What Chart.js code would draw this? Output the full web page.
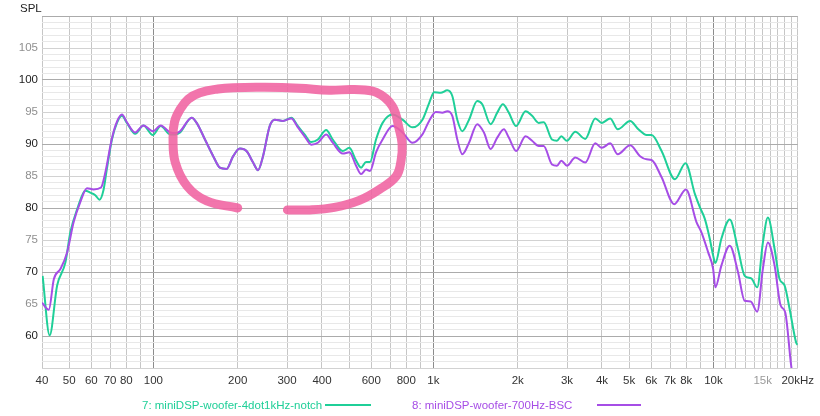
<!DOCTYPE html>
<html><head><meta charset="utf-8">
<script src="https://cdn.jsdelivr.net/npm/chart.js@4.4.1/dist/chart.umd.min.js"></script>
<style>
html,body{margin:0;padding:0;background:#fff;}
#wrap{position:relative;width:820px;height:416px;font-family:"Liberation Sans",Arial,sans-serif;}
canvas{position:absolute;left:0;top:0;}
.lbl{position:absolute;font-size:11.5px;line-height:14px;white-space:nowrap;}
.sw{position:absolute;height:2px;}
</style></head><body>
<div id="wrap">
<canvas id="c" width="820" height="416"></canvas>
<div class="lbl" style="left:20px;top:1px;color:#222">SPL</div>
<div class="lbl" style="left:142px;top:398px;color:#1fcf98">7: miniDSP-woofer-4dot1kHz-notch</div>
<div class="sw" style="left:325px;top:404px;width:46px;background:#1fcf98"></div>
<div class="lbl" style="left:412px;top:398px;color:#a64de6">8: miniDSP-woofer-700Hz-BSC</div>
<div class="sw" style="left:597px;top:404px;width:44px;background:#a64de6"></div>
</div>
<script>
// Series 7: miniDSP-woofer-4dot1kHz-notch
const freq7 = [40.2,42.6,45.3,48.5,50.5,53.4,57.1,59.5,62,64.2,66.4,68.2,71.1,74.1,77.2,80.4,86.1,92.1,99.5,106.2,114.7,120,124.5,137,142.7,152.8,163.5,172.7,182.5,192.7,203.5,215,227,236.4,246.3,260.2,271.2,290.1,310.9,328.1,346.6,366.2,386.6,414,437,474.5,501,529.5,551.6,574.7,593.8,623.7,658.4,714.5,775.6,842,913.7,965.4,1006,1062,1121,1168,1217,1268,1340,1434,1494,1601,1690,1770,1859,1975,2133,2251,2378,2477,2651,2762,2863,2998,3211,3486,3784,3995,4280,4553,5040,5395,5774,6015,6530,7290,7948,8585,8950,9318,9705,9975,10162,10676,11438,12238,12934,13650,14338,15020,15649,16540,17229,17950,18700,19740,20000];
const spl7 = [69.4,60.1,67.9,71.5,76.2,79.8,82.7,82.4,82.0,81.3,82.9,86.1,90.7,93.3,94.4,93.3,91.6,92.9,91.4,92.8,91.5,91.5,91.8,94.1,93.3,90.7,88.1,86.3,86.1,88.1,89.3,88.9,87.1,85.9,88.1,92.8,93.8,93.6,94.1,92.8,91.5,90.3,90.7,92.2,90.7,88.9,89.4,87.4,86.3,87.2,87.2,90.7,93.3,94.6,93.8,92.6,93.8,96.4,98.1,98.0,98.4,97.5,93.8,92.0,93.8,96.7,96.2,93.1,94.9,96.2,94.9,92.8,95.1,94.4,93.3,93.4,90.7,90.5,91.2,90.5,91.9,90.8,94.0,93.3,94.0,92.3,93.6,92.3,91.4,91.4,88.9,84.5,87.0,82.2,80.1,78.3,75.2,72.6,71.4,75.2,78.2,73.6,69.4,69.0,67.6,74.6,78.5,73.6,68.9,67.9,64.3,59.0,58.6];

// Series 8: miniDSP-woofer-700Hz-BSC
const freq8 = [40,42.3,44.1,46.6,49.2,51.9,54.8,57.9,61.1,65,67.3,71.1,74.1,77.2,80.4,86.1,92.1,99.5,106.2,114.7,120,124.5,137,142.7,152.8,163.5,172.7,182.5,192.7,203.5,215,227,236.4,246.3,260.2,271.2,290.1,310.9,328.1,346.6,366.2,386.6,414,437,474.5,501,529.5,551.6,574.7,593.8,623.7,658.4,714.5,775.6,842,913.7,965.4,1020,1076,1121,1168,1217,1268,1340,1434,1515,1601,1690,1785,1859,1975,2133,2251,2378,2477,2651,2762,2863,2998,3211,3486,3784,3995,4280,4553,5040,5470,5774,6015,6530,7245,7975,8699,9062,9573,9975,10162,10676,11438,12238,12934,13583,14338,15020,15649,16540,17372,18045,18950,19600];
const spl8 = [65.2,64.1,68.9,70.5,73.1,77.8,80.9,83.1,82.9,83.2,85.5,90.9,93.5,94.6,93.4,91.8,92.9,92.0,92.9,91.8,91.7,92.0,94.1,93.3,90.7,88.1,86.3,86.1,88.1,89.3,88.9,87.1,85.9,88.1,92.8,93.8,93.6,94.0,92.6,91.2,89.9,90.2,91.5,90.2,88.5,88.7,86.6,85.3,86.0,85.8,88.7,90.7,92.8,91.8,90.2,91.5,93.6,95.0,94.9,95.1,94.4,90.7,88.4,90.2,93.1,91.8,89.2,91.0,92.3,91.0,88.9,91.2,90.5,89.7,89.7,86.8,86.6,87.4,86.6,87.9,87.1,90.1,89.4,90.1,88.4,89.8,88.1,87.6,87.5,84.8,80.6,82.9,77.8,76.2,73.1,70.5,67.6,71.0,74.1,70.0,65.5,65.4,63.8,70.5,74.6,71.0,64.8,63.7,55.4,51.0];

// Hand-drawn highlight (in Hz / dB)
const markFreq = [200,155,132,119.7,117.5,119,124.5,133,146.6,170,192.7,250,333,425,522,625,713,755,773,767,737,641,544,443,361,301];
const markSpl  = [80.0,81.1,83.4,87.1,91.0,93.5,95.4,97.0,98.0,98.6,98.8,98.85,98.7,98.4,98.5,98.05,95.9,92.3,90.0,87.5,85.0,82.9,81.2,80.1,79.7,79.7];

// Axis ticks
const xGridValues = [40,50,60,70,80,90,100,200,300,400,500,600,700,800,900,1000,2000,3000,4000,5000,6000,7000,8000,9000,10000,11000,12000,13000,14000,15000,16000,17000,18000,19000,20000];
const xTickValues = [40,50,60,70,80,100,200,300,400,600,800,1000,2000,3000,4000,5000,6000,7000,8000,10000,15000,20000];
const xTickLabels = ['40','50','60','70','80','100','200','300','400','600','800','1k','2k','3k','4k','5k','6k','7k','8k','10k','15k','20kHz'];
const yMin = 55, yMax = 110;
const yTickValues = [60,65,70,75,80,85,90,95,100,105];

const pts = (fs, vs) => fs.map((f, i) => ({x: f, y: vs[i]}));
const decades = [100, 1000, 10000];
const FONT = {family: '"Liberation Sans", Arial, sans-serif', size: 11.5};

new Chart(document.getElementById('c'), {
  type: 'line',
  data: {
    datasets: [
      {label: 'mark', data: pts(markFreq, markSpl), borderColor: 'rgba(240,98,160,0.88)', borderWidth: 9,
       tension: 0.4, pointRadius: 0, borderCapStyle: 'round', borderJoinStyle: 'round', fill: false},
      {label: '8: miniDSP-woofer-700Hz-BSC', data: pts(freq8, spl8), borderColor: '#a64de6', borderWidth: 2,
       cubicInterpolationMode: 'monotone', pointRadius: 0, fill: false},
      {label: '7: miniDSP-woofer-4dot1kHz-notch', data: pts(freq7, spl7), borderColor: '#1fcf98', borderWidth: 2,
       cubicInterpolationMode: 'monotone', pointRadius: 0, fill: false}
    ]
  },
  options: {
    responsive: false, animation: false, devicePixelRatio: 1,
    layout: {padding: {top: 16, right: 21, bottom: 0, left: 0}},
    plugins: {legend: {display: false}, tooltip: {enabled: false}},
    scales: {
      x: {
        type: 'logarithmic', min: 40, max: 20000,
        afterBuildTicks: s => { s.ticks = xGridValues.map(v => ({value: v})); },
        afterFit: s => { s.height = 48; },
        border: {display: false},
        grid: {drawTicks: false,
          color: c => decades.includes(c.tick && c.tick.value) ? '#8c8c8c' : '#c6c6c6'},
        ticks: {autoSkip: false, maxRotation: 0, padding: 6, font: FONT,
          color: c => (c.tick && c.tick.value === 15000) ? '#9a9a9a' : '#333',
          callback: v => { const i = xTickValues.indexOf(v); return i >= 0 ? xTickLabels[i] : ''; }}
      },
      y: {
        type: 'linear', min: yMin, max: yMax,
        afterBuildTicks: s => { const t = []; for (let v = yMin; v <= yMax; v++) t.push({value: v}); s.ticks = t; },
        afterFit: s => { s.width = 42; },
        border: {display: false},
        grid: {drawTicks: false,
          color: c => { const v = c.tick && c.tick.value; return v % 10 === 0 ? '#ababab' : (v % 5 === 0 ? '#d2d2d2' : '#e8e8e8'); }},
        ticks: {autoSkip: false, padding: 4, font: FONT,
          color: c => (c.tick && c.tick.value % 10 === 0) ? '#222' : '#8f8f8f',
          callback: v => yTickValues.includes(v) ? String(v) : ''}
      }
    }
  }
});
</script>
</body></html>
